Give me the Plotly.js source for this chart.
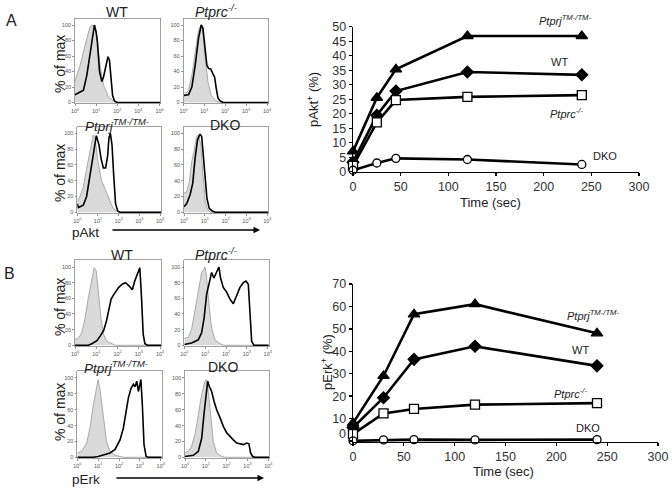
<!DOCTYPE html>
<html><head><meta charset="utf-8">
<script src="https://cdn.plot.ly/plotly-3.0.1.min.js"></script>
<style>html,body{margin:0;padding:0;background:#fff;}#chart{width:672px;height:490px;}</style>
</head><body><div id="chart"></div>
<script>
// ---------- Time-course data ----------
const aktTime = [0, 25, 45, 120, 240];
const aktPtprj = [7, 25.5, 35.3, 46.8, 46.8];
const aktWT = [3.3, 19.5, 27.8, 34.4, 33.4];
const aktPtprc = [2, 17, 24.7, 25.8, 26.4];
const aktDKO = [0.5, 3, 4.6, 4.2, 2.5];

const erkTime = [0, 30, 60, 120, 240];
const erkPtprj = [8, 29, 56.5, 61, 48];
const erkWT = [6, 19.3, 36.4, 42.2, 33.5];
const erkPtprc = [3.1, 12.3, 14.3, 16.2, 16.9];
const erkDKO = [0.1, 0.5, 0.6, 0.5, 0.6];

// ---------- Histogram data (x = log10 intensity, y = % of max) ----------
const aktWT_ctrl_x = [0, 0.24, 0.48, 0.71, 0.87, 1.03, 1.19, 1.35, 1.59, 1.83, 2.0, 4.05];
const aktWT_ctrl_y = [27, 48, 74, 98, 100, 87, 48, 22, 7, 2, 0, 0];
const aktWT_samp_x = [0, 0.16, 0.4, 0.56, 0.71, 0.84, 0.92, 1.0, 1.06, 1.16, 1.27, 1.35, 1.43, 1.56, 1.63, 1.7, 1.78, 1.87, 2.0, 4.05];
const aktWT_samp_y = [10, 12, 16, 35, 65, 91, 100, 91, 78, 40, 27, 33, 44, 59, 55, 27, 9, 2, 0, 0];

const aktPtprc_ctrl_x = [0, 0.24, 0.4, 0.56, 0.72, 0.83, 0.93, 1.04, 1.17, 1.33, 1.52, 1.76, 4.05];
const aktPtprc_ctrl_y = [9, 16, 35, 65, 93, 100, 91, 57, 27, 9, 3, 0, 0];
const aktPtprc_samp_x = [0, 0.24, 0.4, 0.56, 0.72, 0.85, 0.93, 1.04, 1.12, 1.2, 1.31, 1.41, 1.49, 1.57, 1.65, 1.76, 1.9, 4.05];
const aktPtprc_samp_y = [9, 10, 20, 48, 83, 100, 96, 65, 48, 44, 43, 37, 33, 18, 6, 2, 0, 0];

const aktPtprj_ctrl_x = [0, 0.13, 0.29, 0.45, 0.61, 0.77, 0.85, 1.0, 1.18, 1.34, 1.5, 1.66, 1.82, 2.0, 4.05];
const aktPtprj_ctrl_y = [13.5, 20, 32, 56, 77, 98, 96, 64, 39, 30, 20, 9, 3, 0, 0];
const aktPtprj_samp_x = [0, 0.05, 0.13, 0.29, 0.45, 0.61, 0.77, 0.92, 1.05, 1.15, 1.26, 1.37, 1.47, 1.53, 1.6, 1.68, 1.76, 1.85, 1.95, 2.06, 4.05];
const aktPtprj_samp_y = [11, 6, 7, 9, 20, 47, 77, 97, 85, 68, 56, 56, 72, 94, 100, 85, 47, 11, 2, 0, 0];

const aktDKO_ctrl_x = [0, 0.13, 0.26, 0.37, 0.48, 0.61, 0.69, 0.81, 0.9, 1.02, 1.13, 1.26, 4.05];
const aktDKO_ctrl_y = [24, 26, 39, 64, 77, 96, 98, 85, 51, 13.5, 4, 0, 0];
const aktDKO_samp_x = [0, 0.13, 0.29, 0.42, 0.53, 0.65, 0.77, 0.85, 0.94, 1.02, 1.1, 1.21, 1.34, 1.5, 4.05];
const aktDKO_samp_y = [7, 11, 22, 37, 68, 92, 99, 96, 68, 39, 18, 5, 2, 0, 0];

const erkWT_ctrl_x = [0, 0.16, 0.32, 0.48, 0.63, 0.79, 0.9, 1.0, 1.1, 1.23, 1.34, 1.5, 1.66, 1.9, 4.05];
const erkWT_ctrl_y = [7, 9, 16, 35, 61, 86, 99, 95, 65, 33, 14, 5, 3, 0, 0];
const erkWT_samp_x = [0, 0.63, 0.79, 1.03, 1.19, 1.35, 1.48, 1.59, 1.7, 1.83, 1.94, 2.06, 2.22, 2.38, 2.54, 2.7, 2.81, 2.94, 3.05, 3.13, 3.21, 3.29, 3.41, 4.05];
const erkWT_samp_y = [0, 0, 2, 6, 12, 19, 31, 44, 59, 65, 69, 74, 78, 80, 76, 71, 82, 91, 99, 61, 14, 2, 0, 0];

const erkPtprc_ctrl_x = [0, 0.19, 0.35, 0.51, 0.67, 0.83, 1.0, 1.07, 1.2, 1.31, 1.47, 1.71, 1.9, 4.05];
const erkPtprc_ctrl_y = [9, 10, 20, 44, 72, 93, 100, 86, 48, 22, 7, 2, 0, 0];
const erkPtprc_samp_x = [0, 0.35, 0.67, 0.83, 0.95, 1.07, 1.2, 1.31, 1.42, 1.55, 1.66, 1.74, 1.87, 2.03, 2.19, 2.35, 2.51, 2.67, 2.83, 2.96, 3.07, 3.15, 3.23, 3.34, 4.05];
const erkPtprc_samp_y = [1, 3, 7, 16, 35, 65, 80, 93, 86, 95, 100, 86, 74, 68, 59, 53, 63, 74, 80, 82, 78, 35, 5, 0, 0];

const erkPtprj_ctrl_x = [0, 0.21, 0.45, 0.61, 0.77, 0.93, 1.0, 1.08, 1.24, 1.4, 1.57, 1.81, 2.05, 2.2, 4.05];
const erkPtprj_ctrl_y = [5.5, 7.5, 18, 37, 66, 92, 98, 87, 50, 20, 7.5, 2.5, 1, 0, 0];
const erkPtprj_samp_x = [0, 0.77, 1.0, 1.24, 1.57, 1.81, 2.05, 2.21, 2.34, 2.45, 2.58, 2.69, 2.77, 2.85, 2.93, 3.01, 3.05, 3.12, 3.2, 3.3, 3.4, 4.05];
const erkPtprj_samp_y = [0, 0, 1, 3, 5.5, 10, 22, 37, 58, 75, 87, 92, 89, 96, 83, 96, 98, 66, 16, 1, 0, 0];

const erkDKO_ctrl_x = [0, 0.16, 0.32, 0.48, 0.64, 0.8, 0.96, 1.04, 1.12, 1.23, 1.36, 1.52, 1.76, 1.9, 4.05];
const erkDKO_ctrl_y = [5.5, 8, 14, 29, 54, 79, 96, 98, 83, 50, 20, 5.5, 1, 0, 0];
const erkDKO_samp_x = [0, 0.4, 0.64, 0.8, 0.91, 1.0, 1.09, 1.17, 1.28, 1.39, 1.52, 1.68, 1.84, 2.0, 2.16, 2.32, 2.48, 2.64, 2.8, 2.96, 3.07, 3.15, 3.25, 3.35, 4.05];
const erkDKO_samp_y = [1, 2.5, 7.5, 24, 54, 79, 96, 89, 83, 71, 60, 50, 39, 31, 26, 22, 18, 17, 16, 18, 17, 5.5, 1, 0, 0];

const histXTickVals = [0, 1, 2, 3, 4];
const histXTickText = ['10<sup>0</sup>', '10<sup>1</sup>', '10<sup>2</sup>', '10<sup>3</sup>', '10<sup>4</sup>'];
const histYTickVals = [0, 20, 40, 60, 80, 100];
const timeTicks = [0, 50, 100, 150, 200, 250, 300];

// ---------- Layout helpers ----------
const W = 672, H = 490;
const FONT = 'Liberation Sans, Arial, Helvetica, sans-serif';
const px = x => x / W;
const py = y => 1 - y / H;

const traces = [];
const layout = {
  width: W, height: H, margin: {l: 0, r: 0, t: 0, b: 0},
  paper_bgcolor: '#fff', plot_bgcolor: '#fff', showlegend: false,
  font: {family: FONT, color: '#222'}, annotations: [], shapes: []
};

// histogram panels: [ctrlX, ctrlY, sampX, sampY, x(10^0) px, x(10^4) px, y(0) px, y(100) px]
const hists = [
  [aktWT_ctrl_x, aktWT_ctrl_y, aktWT_samp_x, aktWT_samp_y, 75, 159.5, 102.5, 25],
  [aktPtprc_ctrl_x, aktPtprc_ctrl_y, aktPtprc_samp_x, aktPtprc_samp_y, 183.5, 267, 102.5, 25],
  [aktPtprj_ctrl_x, aktPtprj_ctrl_y, aktPtprj_samp_x, aktPtprj_samp_y, 77.3, 160, 212.3, 133.3],
  [aktDKO_ctrl_x, aktDKO_ctrl_y, aktDKO_samp_x, aktDKO_samp_y, 184, 267.3, 212.3, 133.3],
  [erkWT_ctrl_x, erkWT_ctrl_y, erkWT_samp_x, erkWT_samp_y, 75, 160, 345.3, 267],
  [erkPtprc_ctrl_x, erkPtprc_ctrl_y, erkPtprc_samp_x, erkPtprc_samp_y, 184.3, 267.7, 345.3, 267],
  [erkPtprj_ctrl_x, erkPtprj_ctrl_y, erkPtprj_samp_x, erkPtprj_samp_y, 77.3, 160.7, 457.3, 378],
  [erkDKO_ctrl_x, erkDKO_ctrl_y, erkDKO_samp_x, erkDKO_samp_y, 185, 268.3, 457.3, 378]
];

const yLo = -1.3, yHi = 108.5, xHi = 4.05;
hists.forEach((h, i) => {
  const n = i + 1;
  const xa = n === 1 ? 'x' : 'x' + n, ya = n === 1 ? 'y' : 'y' + n;
  const [cx, cy, sx, sy, x0, x4, y0, y100] = h;
  const right = x0 + (x4 - x0) * xHi / 4;
  const k = (y0 - y100) / 100;
  const top = y100 - (yHi - 100) * k, bottom = y0 - yLo * k;
  traces.push({x: cx, y: cy, xaxis: xa, yaxis: ya, type: 'scatter', mode: 'lines',
    fill: 'tozeroy', fillcolor: '#dadada', line: {color: '#a8a8a8', width: 1}, hoverinfo: 'skip'});
  traces.push({x: sx, y: sy, xaxis: xa, yaxis: ya, type: 'scatter', mode: 'lines',
    line: {color: '#000', width: 1.6}, hoverinfo: 'skip'});
  layout['xaxis' + (n === 1 ? '' : n)] = {
    domain: [px(x0), px(right)], range: [0, xHi], anchor: ya,
    tickvals: histXTickVals, ticktext: histXTickText, ticks: 'outside', ticklen: 2, tickwidth: 0.8,
    tickcolor: '#777', tickfont: {size: 5.5, color: '#555', family: FONT},
    showline: true, linecolor: '#888', linewidth: 0.8, mirror: true, showgrid: false, zeroline: false
  };
  layout['yaxis' + (n === 1 ? '' : n)] = {
    domain: [py(bottom), py(top)], range: [yLo, yHi], anchor: xa,
    tickvals: histYTickVals, ticks: 'outside', ticklen: 2, tickwidth: 0.8,
    tickcolor: '#777', tickfont: {size: 5.5, color: '#555', family: FONT},
    showline: true, linecolor: '#888', linewidth: 0.8, mirror: true, showgrid: false, zeroline: false
  };
});

// ---------- Time-course charts ----------
const seriesStyles = [
  {sym: 'triangle-up', size: 10, fill: '#000'},
  {sym: 'diamond', size: 9, fill: '#000'},
  {sym: 'square', size: 9, fill: '#fff'},
  {sym: 'circle', size: 8, fill: '#fff'}
];
function addTimeSeries(t, ys, xa, ya) {
  ys.forEach((v, i) => {
    const s = seriesStyles[i];
    traces.push({x: t, y: v, xaxis: xa, yaxis: ya, type: 'scatter', mode: 'lines+markers', cliponaxis: false,
      line: {color: '#000', width: 2.6},
      marker: {symbol: s.sym, size: s.size, color: s.fill, line: {color: '#000', width: 1.3}}, hoverinfo: 'skip'});
  });
}
addTimeSeries(aktTime, [aktPtprj, aktWT, aktPtprc, aktDKO], 'x9', 'y9');
addTimeSeries(erkTime, [erkPtprj, erkWT, erkPtprc, erkDKO], 'x10', 'y10');

const timeAxis = (d, ya) => ({domain: d, range: [0, 300], anchor: ya, tickvals: timeTicks,
  ticks: 'outside', ticklen: 3, tickwidth: 1.3, tickcolor: '#000',
  tickfont: {size: 12.5, color: '#333', family: FONT},
  showline: true, linecolor: '#000', linewidth: 1.3, showgrid: false, zeroline: false});
layout.xaxis9 = timeAxis([px(353), px(639)], 'y9');
layout.yaxis9 = {domain: [py(171.7), py(26.7)], range: [0, 50], anchor: 'x9', dtick: 5,
  ticks: 'outside', ticklen: 3, tickwidth: 1.3, tickcolor: '#000',
  tickfont: {size: 12.5, color: '#333', family: FONT},
  showline: true, linecolor: '#000', linewidth: 1.3, showgrid: false, zeroline: false};
layout.xaxis10 = timeAxis([px(353), px(658)], 'y10');
const erkY0 = 441, erkY70 = 284, erkK = (erkY0 - erkY70) / 70;
layout.yaxis10 = {domain: [py(erkY0 + 0.5 * erkK), py(erkY70)], range: [-0.5, 70], anchor: 'x10',
  tickvals: [0, 10, 20, 30, 40, 50, 60, 70], ticktext: ['', '10', '20', '30', '40', '50', '60', '70'],
  ticks: 'outside', ticklen: 3, tickwidth: 1.3, tickcolor: '#000',
  tickfont: {size: 12.5, color: '#333', family: FONT},
  showline: true, linecolor: '#000', linewidth: 1.3, showgrid: false, zeroline: false};

// ---------- Text ----------
function ann(text, x, y, size, opts) {
  layout.annotations.push(Object.assign({text: text, x: px(x), y: py(y), xref: 'paper', yref: 'paper',
    showarrow: false, font: {size: size, family: FONT, color: '#222'}, xanchor: 'center', yanchor: 'middle'}, opts || {}));
}
const PTPRC = '<i>Ptprc<sup>-/-</sup></i>';
const PTPRJ = '<i>Ptprj<sup>TM-/TM-</sup></i>';

ann('A', 11, 20, 16);
ann('B', 9, 273, 16);

// histogram titles
ann('WT', 117, 12, 14); ann(PTPRC, 216, 11, 14);
ann(PTPRJ, 117, 125, 13.5); ann('DKO', 225, 125, 14);
ann('WT', 122, 255, 14); ann(PTPRC, 216, 254, 14);
ann(PTPRJ, 116, 367, 13.5); ann('DKO', 223, 367, 14);

// % of max
[64, 173, 307, 412].forEach(y => ann('% of max', 60, y, 14, {textangle: -90}));

// pAkt / pErk with arrows
ann('pAkt', 85, 232, 13.5);
ann('pErk', 86, 479, 13.5);
layout.annotations.push({x: px(260), y: py(230), ax: px(111), ay: py(230), xref: 'paper', yref: 'paper',
  axref: 'paper', ayref: 'paper', text: '', showarrow: true, arrowhead: 2, arrowsize: 1, arrowwidth: 1.3, arrowcolor: '#000'});
layout.annotations.push({x: px(264), y: py(478), ax: px(115), ay: py(478), xref: 'paper', yref: 'paper',
  axref: 'paper', ayref: 'paper', text: '', showarrow: true, arrowhead: 2, arrowsize: 1, arrowwidth: 1.3, arrowcolor: '#000'});

// axis titles of time-course charts
ann('Time (sec)', 490, 202, 13);
ann('pAkt<sup>+</sup> (%)', 313, 100, 13, {textangle: -90});
ann('Time (sec)', 503, 471, 13);
ann('pErk<sup>+</sup> (%)', 327, 362, 13, {textangle: -90});
ann('0', 348, 434, 12.5, {xanchor: 'right', font: {size: 12.5, family: FONT, color: '#333'}});

// series labels
ann(PTPRJ, 565, 20, 11);
ann('WT', 559, 62, 11);
ann(PTPRC, 566, 113, 11);
ann('DKO', 605, 156, 11);
ann(PTPRJ, 593, 315, 11);
ann('WT', 580, 350, 11);
ann(PTPRC, 570, 393, 11);
ann('DKO', 588, 428, 11);

Plotly.newPlot('chart', traces, layout, {staticPlot: true, displayModeBar: false});
</script></body></html>
